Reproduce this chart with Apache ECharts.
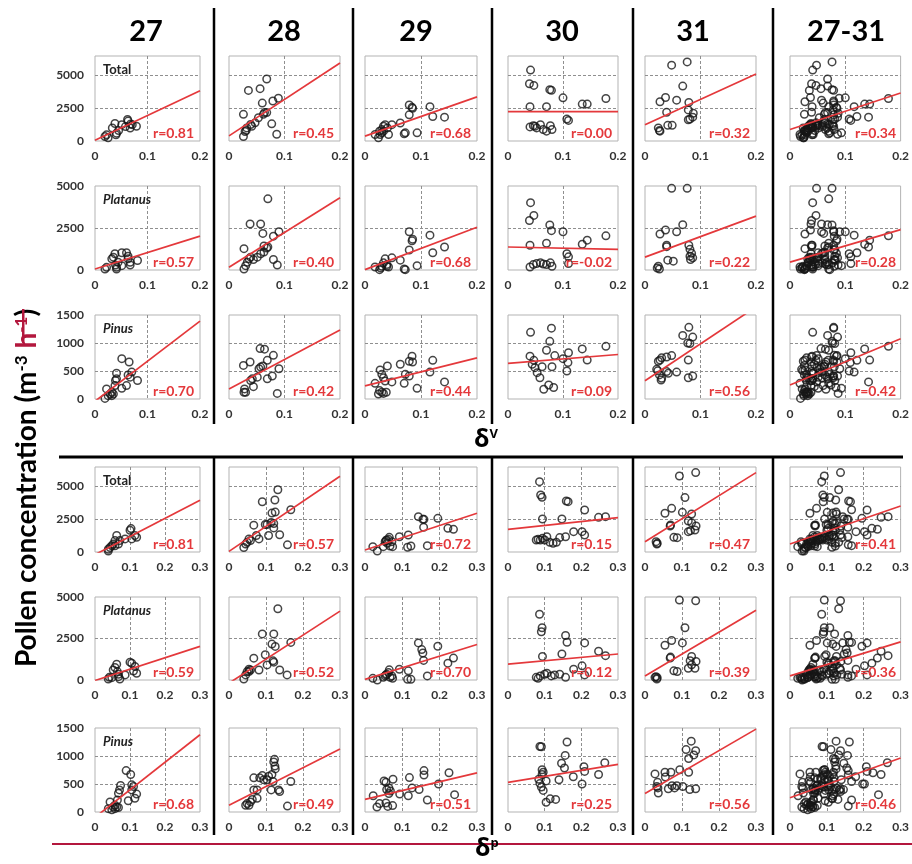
<!DOCTYPE html>
<html>
<head>
<meta charset="utf-8">
<script src="https://cdn.jsdelivr.net/npm/echarts@6/dist/echarts.min.js"></script>
<style>
html,body{margin:0;padding:0;background:#fff}
#chart{width:912px;height:864px}
</style>
</head>
<body>
<div id="chart"></div>
<script>
// ---- Column headings (sampling days) ----
const dayLabels = ['27', '28', '29', '30', '31', '27-31'];

// ---- Pollen concentration vs delta-V, per day: [deltaV, concentration] ----
const totalV27 = [[0.019,340],[0.022,470],[0.025,250],[0.033,995],[0.038,1335],[0.041,600],[0.040,470],[0.045,800],[0.051,1250],[0.058,1100],[0.062,1650],[0.063,1520],[0.067,995],[0.068,1300],[0.071,1250],[0.079,1125]];
const totalV28 = [[0.026,340],[0.029,730],[0.026,2040],[0.035,3870],[0.056,4000],[0.068,4740],[0.060,2900],[0.079,3060],[0.089,3270],[0.064,2170],[0.068,2170],[0.053,1780],[0.047,1390],[0.041,1130],[0.032,1000],[0.077,1310],[0.086,520],[0.062,2040],[0.039,1260],[0.031,810]];
const totalV29 = [[0.018,500],[0.024,250],[0.026,750],[0.030,875],[0.033,1125],[0.036,1250],[0.033,750],[0.040,1000],[0.042,500],[0.048,1250],[0.063,1375],[0.070,550],[0.072,625],[0.079,2000],[0.079,2750],[0.085,2500],[0.084,2575],[0.093,625],[0.116,2625],[0.121,1875],[0.142,1825],[0.030,625],[0.027,500]];
const totalV30 = [[0.041,5425],[0.039,4375],[0.047,4250],[0.076,3925],[0.079,3875],[0.100,3300],[0.040,2625],[0.070,2625],[0.135,2825],[0.144,2825],[0.178,3250],[0.107,1675],[0.110,1575],[0.040,1075],[0.046,1175],[0.052,1000],[0.059,1250],[0.064,875],[0.070,750],[0.077,1175],[0.080,875],[0.049,1125]];
const totalV31 = [[0.048,5800],[0.076,6050],[0.068,4200],[0.027,3000],[0.037,3325],[0.057,3125],[0.079,2950],[0.039,2200],[0.078,2375],[0.087,2125],[0.081,1675],[0.086,1825],[0.078,1625],[0.041,1200],[0.049,1200],[0.024,1000],[0.026,800],[0.027,750]];

const platV27 = [[0.019,60],[0.022,160],[0.032,665],[0.035,765],[0.038,970],[0.041,160],[0.039,300],[0.044,460],[0.051,260],[0.051,1030],[0.060,1030],[0.063,825],[0.067,460],[0.063,665],[0.081,565],[0.067,300],[0.041,60]];
const platV28 = [[0.027,60],[0.030,260],[0.033,460],[0.036,665],[0.039,765],[0.027,1270],[0.038,2740],[0.057,2740],[0.061,2180],[0.070,4235],[0.063,1430],[0.068,1310],[0.070,1370],[0.057,970],[0.051,765],[0.044,625],[0.080,2015],[0.090,2280],[0.080,625],[0.087,300],[0.063,1070]];
const platV29 = [[0.018,180],[0.026,20],[0.030,220],[0.033,425],[0.036,665],[0.039,220],[0.042,180],[0.048,725],[0.063,585],[0.070,60],[0.072,20],[0.079,2280],[0.085,1835],[0.084,1735],[0.079,1190],[0.093,260],[0.116,2075],[0.121,1030],[0.142,1370],[0.028,120],[0.039,320]];
const platV30 = [[0.041,4010],[0.039,2945],[0.047,3250],[0.076,2680],[0.079,2340],[0.100,2280],[0.040,1470],[0.070,1590],[0.135,1530],[0.144,1775],[0.178,2035],[0.107,970],[0.110,785],[0.040,180],[0.046,320],[0.052,380],[0.059,425],[0.064,360],[0.070,320],[0.077,425],[0.080,220],[0.110,380]];
const platV31 = [[0.048,4860],[0.076,4860],[0.068,2700],[0.027,2140],[0.037,2380],[0.057,2280],[0.039,1470],[0.039,1390],[0.079,1470],[0.081,1230],[0.084,990],[0.081,825],[0.086,725],[0.082,625],[0.041,585],[0.051,525],[0.024,220],[0.026,60],[0.022,120]];

const pinV27 = [[0.019,10],[0.022,180],[0.025,60],[0.029,90],[0.032,60],[0.035,90],[0.038,240],[0.039,330],[0.041,360],[0.041,460],[0.051,720],[0.051,190],[0.060,240],[0.065,660],[0.063,430],[0.070,480],[0.067,390],[0.081,330],[0.032,120]];
const pinV28 = [[0.027,120],[0.028,180],[0.030,120],[0.026,600],[0.038,660],[0.042,360],[0.039,330],[0.044,220],[0.051,390],[0.054,540],[0.057,570],[0.061,590],[0.056,900],[0.064,890],[0.069,690],[0.069,360],[0.078,410],[0.080,780],[0.090,540],[0.087,100]];
const pinV29 = [[0.018,280],[0.024,90],[0.026,150],[0.030,120],[0.033,100],[0.027,520],[0.030,440],[0.033,380],[0.036,320],[0.040,590],[0.048,305],[0.063,620],[0.070,280],[0.072,440],[0.079,675],[0.084,765],[0.085,660],[0.079,410],[0.093,190],[0.116,480],[0.121,690],[0.142,305],[0.038,120]];
const pinV30 = [[0.041,1190],[0.079,1265],[0.076,1030],[0.070,870],[0.040,765],[0.047,690],[0.044,620],[0.049,560],[0.053,470],[0.058,380],[0.062,575],[0.080,575],[0.085,775],[0.100,720],[0.110,825],[0.109,650],[0.107,500],[0.135,895],[0.144,695],[0.178,940],[0.065,175],[0.074,250],[0.083,205]];
const pinV31 = [[0.079,1280],[0.068,1135],[0.086,1105],[0.077,1000],[0.081,990],[0.078,695],[0.027,695],[0.024,675],[0.030,735],[0.039,750],[0.048,775],[0.023,505],[0.026,430],[0.030,370],[0.039,490],[0.042,460],[0.057,480],[0.029,340],[0.078,380],[0.086,410],[0.021,530]];

// ---- Pollen concentration vs delta-P, per day: [deltaP, concentration] ----
const totalP27 = [[0.038,210],[0.043,340],[0.048,475],[0.057,870],[0.062,1260],[0.052,605],[0.067,605],[0.071,870],[0.057,475],[0.086,1000],[0.100,1660],[0.103,1790],[0.105,1000],[0.114,1260],[0.119,1130],[0.038,80]];
const totalP28 = [[0.040,340],[0.045,605],[0.049,740],[0.058,870],[0.067,2050],[0.074,1260],[0.081,1000],[0.090,3840],[0.098,2100],[0.103,2100],[0.107,1260],[0.114,2260],[0.116,2975],[0.121,2180],[0.121,1840],[0.124,3975],[0.125,3050],[0.132,4760],[0.137,1315],[0.158,550],[0.167,3235],[0.054,1000]];
const totalP29 = [[0.021,410],[0.033,75],[0.049,410],[0.054,790],[0.056,870],[0.060,665],[0.063,970],[0.065,1120],[0.067,460],[0.072,790],[0.074,410],[0.092,1170],[0.116,1300],[0.114,360],[0.123,460],[0.143,2700],[0.155,2500],[0.158,2500],[0.157,1890],[0.167,485],[0.195,2575],[0.222,1810],[0.237,1735],[0.058,920]];
const totalP30 = [[0.086,5380],[0.089,4360],[0.093,4180],[0.094,2525],[0.159,3900],[0.164,3850],[0.147,2525],[0.209,3210],[0.247,2650],[0.266,2700],[0.082,970],[0.088,920],[0.094,1045],[0.100,920],[0.106,1175],[0.114,740],[0.123,665],[0.132,740],[0.141,1100],[0.157,1170],[0.179,1555],[0.202,1555],[0.209,1300],[0.077,920]];
const totalP31 = [[0.093,5815],[0.137,6070],[0.108,4160],[0.054,2960],[0.072,3340],[0.101,3035],[0.126,2910],[0.117,2370],[0.126,2245],[0.138,1990],[0.135,1680],[0.123,1630],[0.117,1555],[0.069,2065],[0.068,1990],[0.078,1120],[0.087,1095],[0.030,790],[0.032,610],[0.033,665]];

const platP27 = [[0.038,60],[0.041,160],[0.057,750],[0.062,950],[0.064,505],[0.067,200],[0.071,60],[0.067,345],[0.052,605],[0.100,1075],[0.105,1010],[0.114,810],[0.110,545],[0.119,405],[0.086,305],[0.048,140]];
const platP28 = [[0.040,60],[0.045,305],[0.049,505],[0.054,650],[0.067,1315],[0.081,605],[0.090,2775],[0.098,1520],[0.103,910],[0.116,2165],[0.121,2775],[0.125,2025],[0.119,1155],[0.121,1075],[0.132,4290],[0.137,605],[0.157,305],[0.167,2265],[0.054,505],[0.058,605]];
const platP29 = [[0.021,100],[0.033,0],[0.049,160],[0.054,245],[0.058,345],[0.063,445],[0.065,610],[0.067,160],[0.072,245],[0.074,100],[0.092,650],[0.116,550],[0.114,40],[0.123,40],[0.143,2235],[0.152,1830],[0.155,1625],[0.157,1180],[0.167,245],[0.195,2030],[0.222,1015],[0.237,1320],[0.056,305]];
const platP30 = [[0.086,3960],[0.093,3150],[0.091,2910],[0.094,1420],[0.157,2680],[0.161,2275],[0.147,1565],[0.209,2235],[0.247,1730],[0.266,1465],[0.082,100],[0.088,245],[0.100,345],[0.106,405],[0.118,245],[0.127,305],[0.141,345],[0.157,160],[0.179,650],[0.202,855],[0.209,305],[0.077,160]];
const platP31 = [[0.093,4815],[0.137,4775],[0.108,3150],[0.054,2095],[0.072,2380],[0.101,2235],[0.069,1380],[0.068,1320],[0.126,1420],[0.122,1160],[0.138,1120],[0.126,915],[0.135,710],[0.117,710],[0.078,550],[0.087,510],[0.030,200],[0.032,60],[0.033,140],[0.027,160]];

const pinP27 = [[0.038,60],[0.043,180],[0.048,40],[0.052,90],[0.057,120],[0.062,90],[0.064,215],[0.067,335],[0.070,395],[0.073,475],[0.057,60],[0.067,80],[0.089,740],[0.102,670],[0.105,485],[0.105,395],[0.110,455],[0.114,245],[0.119,320],[0.095,200]];
const pinP28 = [[0.045,120],[0.049,150],[0.054,120],[0.058,180],[0.063,225],[0.067,395],[0.076,245],[0.076,395],[0.067,610],[0.090,650],[0.094,575],[0.103,575],[0.107,640],[0.116,670],[0.114,395],[0.121,895],[0.124,820],[0.123,940],[0.125,770],[0.119,545],[0.134,395],[0.137,365],[0.158,105],[0.167,545],[0.083,610]];
const pinP29 = [[0.022,290],[0.032,90],[0.039,150],[0.056,160],[0.061,100],[0.056,530],[0.058,400],[0.064,430],[0.064,330],[0.068,375],[0.074,115],[0.075,585],[0.093,320],[0.116,290],[0.119,615],[0.126,430],[0.145,400],[0.158,660],[0.158,740],[0.167,215],[0.197,500],[0.225,700],[0.240,310],[0.051,555]];
const pinP30 = [[0.087,1170],[0.091,1165],[0.161,1250],[0.156,1010],[0.146,870],[0.154,785],[0.207,810],[0.209,725],[0.264,880],[0.247,670],[0.178,630],[0.139,575],[0.104,555],[0.093,755],[0.093,670],[0.084,585],[0.087,510],[0.091,445],[0.096,385],[0.104,175],[0.115,235],[0.130,225],[0.202,500],[0.096,710]];
const pinP31 = [[0.027,680],[0.034,530],[0.032,455],[0.036,340],[0.035,430],[0.054,710],[0.055,625],[0.070,710],[0.094,755],[0.111,1115],[0.125,1265],[0.137,1095],[0.132,1020],[0.118,955],[0.118,710],[0.073,470],[0.080,430],[0.086,470],[0.102,455],[0.121,400],[0.137,415],[0.063,415]];

// ---- Regression lines: [value at x = 0, value at x = axis max], one per day column ----
const fitTotalV = [[50,3850],[390,5970],[375,3375],[2250,2250],[1250,5125],[875,3675]];
const fitPlatV  = [[60,2015],[160,4295],[20,2540],[1370,1230],[765,3205],[465,2400]];
const fitPinV   = [[-40,1390],[180,1230],[235,735],[635,795],[325,1645],[250,1075]];
const fitTotalP = [[-200,3950],[50,5790],[150,2960],[1735,2630],[790,6070],[610,3520]];
const fitPlatP  = [[-30,2025],[-190,4150],[40,2135],[955,1565],[245,4205],[245,2295]];
const fitPinP   = [[-95,1380],[120,1125],[225,700],[530,850],[330,1480],[255,965]];

// ---- Correlation coefficients printed in each panel ----
const rTotalV = ['0.81','0.45','0.68','0.00','0.32','0.34'];
const rPlatV  = ['0.57','0.40','0.68','-0.02','0.22','0.28'];
const rPinV   = ['0.70','0.42','0.44','0.09','0.56','0.42'];
const rTotalP = ['0.81','0.57','0.72','0.15','0.47','0.41'];
const rPlatP  = ['0.59','0.52','0.70','0.12','0.39','0.36'];
const rPinP   = ['0.68','0.49','0.51','0.25','0.56','0.46'];

// the pooled column holds every sample of the five days
const pooled = (arrs) => [].concat(...arrs);

const panelRows = [
  { name: 'Total',    italic: false, yMax: 6500, yStep: 2500, xMax: 0.2, fits: fitTotalV, r: rTotalV,
    pts: [totalV27, totalV28, totalV29, totalV30, totalV31] },
  { name: 'Platanus', italic: true,  yMax: 5000, yStep: 2500, xMax: 0.2, fits: fitPlatV, r: rPlatV,
    pts: [platV27, platV28, platV29, platV30, platV31] },
  { name: 'Pinus',    italic: true,  yMax: 1500, yStep: 500,  xMax: 0.2, fits: fitPinV, r: rPinV,
    pts: [pinV27, pinV28, pinV29, pinV30, pinV31] },
  { name: 'Total',    italic: false, yMax: 6500, yStep: 2500, xMax: 0.3, fits: fitTotalP, r: rTotalP,
    pts: [totalP27, totalP28, totalP29, totalP30, totalP31] },
  { name: 'Platanus', italic: true,  yMax: 5000, yStep: 2500, xMax: 0.3, fits: fitPlatP, r: rPlatP,
    pts: [platP27, platP28, platP29, platP30, platP31] },
  { name: 'Pinus',    italic: true,  yMax: 1500, yStep: 500,  xMax: 0.3, fits: fitPinP, r: rPinP,
    pts: [pinP27, pinP28, pinP29, pinP30, pinP31] }
];
panelRows.forEach(row => row.pts.push(pooled(row.pts)));

// ---- Layout (pixels) ----
const colBox = [[95,200],[229,340],[365,477],[508,618],[645,756],[790,902]];
const rowBox = [[56,141],[186,270],[315,399],[467,552],[597,680],[728,812]];
const titleX = [146, 284, 416, 562, 693, 846];
const dividerX = [214, 353, 492, 633, 773];

const FONT = 'Lato, "Open Sans", "Liberation Sans", sans-serif';
const RED = '#e4383b';
const CRIMSON = '#b3173d';

const grid = [], xAxis = [], yAxis = [], series = [], graphic = [];

panelRows.forEach((row, ri) => {
  const [top, bottom] = rowBox[ri];
  for (let ci = 0; ci < 6; ci++) {
    const [left, right] = colBox[ci];
    const idx = ri * 6 + ci;
    grid.push({ left, top, width: right - left, height: bottom - top,
      show: true, borderColor: '#b3b3b3', borderWidth: 1, backgroundColor: 'transparent' });
    xAxis.push({
      gridIndex: idx, type: 'value', min: 0, max: row.xMax, interval: 0.1,
      axisLine: { show: false }, axisTick: { show: false },
      axisLabel: { color: '#333', fontFamily: FONT, fontWeight: 'bold', fontSize: 12, margin: 9,
        formatter: v => (v === 0 ? '0' : v.toFixed(1)) },
      splitLine: { show: true, showMinLine: false, showMaxLine: false,
        lineStyle: { color: '#8f8f8f', width: 1, type: [3, 2] } }
    });
    yAxis.push({
      gridIndex: idx, type: 'value', min: 0, max: row.yMax, interval: row.yStep,
      axisLine: { show: false }, axisTick: { show: false },
      axisLabel: { show: ci === 0, color: '#333', fontFamily: FONT, fontWeight: 'bold', fontSize: 12, margin: 11,
        formatter: v => (v % row.yStep === 0 ? String(v) : '') },
      splitLine: { show: true, showMinLine: false, showMaxLine: false,
        lineStyle: { color: '#8f8f8f', width: 1, type: [3, 2] } }
    });
    series.push({
      type: 'scatter', xAxisIndex: idx, yAxisIndex: idx, data: row.pts[ci],
      symbol: 'circle', symbolSize: 7.5, silent: true,
      itemStyle: { color: 'rgba(255,255,255,0)', borderColor: '#161616', borderWidth: 1.5 }
    });
    const f = row.fits[ci];
    series.push({
      type: 'line', xAxisIndex: idx, yAxisIndex: idx, data: [[0, f[0]], [row.xMax, f[1]]],
      showSymbol: false, silent: true, clip: true, z: 3,
      lineStyle: { color: RED, width: 1.7 }
    });
    graphic.push({
      type: 'text', x: right - 6, y: bottom - 8, z: 10,
      style: { text: 'r=' + row.r[ci], font: 'bold 14px ' + FONT, fill: RED,
        textAlign: 'right', align: 'right', textVerticalAlign: 'middle', verticalAlign: 'middle' }
    });
  }
  graphic.push({
    type: 'text', x: colBox[0][0] + 8, y: top + 14, z: 10,
    style: { text: row.name, font: (row.italic ? 'italic ' : '') + 'bold 13px ' + FONT, fill: '#222',
      textAlign: 'left', align: 'left', textVerticalAlign: 'middle', verticalAlign: 'middle' }
  });
});

// column headings
dayLabels.forEach((d, i) => graphic.push({
  type: 'text', x: titleX[i], y: 32,
  style: { text: d, font: 'bold 29px ' + FONT, fill: '#000',
    textAlign: 'center', align: 'center', textVerticalAlign: 'middle', verticalAlign: 'middle' }
}));

// black frame lines between days and between the two halves
dividerX.forEach(x => {
  graphic.push({ type: 'line', shape: { x1: x, y1: 8, x2: x, y2: 424 }, style: { stroke: '#000', lineWidth: 2.5 } });
  graphic.push({ type: 'line', shape: { x1: x, y1: 457, x2: x, y2: 835 }, style: { stroke: '#000', lineWidth: 2.5 } });
});
graphic.push({ type: 'line', shape: { x1: 59, y1: 457, x2: 903, y2: 457 }, style: { stroke: '#000', lineWidth: 3 } });
graphic.push({ type: 'line', shape: { x1: 52, y1: 844, x2: 912, y2: 844 }, style: { stroke: CRIMSON, lineWidth: 2 } });

// axis names
const GREEK = '"Noto Sans", "DejaVu Sans", sans-serif';
graphic.push({
  type: 'text', x: 486, y: 440, z: 20,
  style: { text: '{d|δ}{s|V}', align: 'center', textAlign: 'center', verticalAlign: 'middle', textVerticalAlign: 'middle',
    rich: { d: { font: 'bold 25px ' + GREEK, fill: '#000' },
            s: { font: 'bold 13px ' + GREEK, fill: '#000', verticalAlign: 'top' } } }
});
graphic.push({
  type: 'text', x: 487, y: 849, z: 20,
  style: { text: '{d|δ}{s|p}', align: 'center', textAlign: 'center', verticalAlign: 'middle', textVerticalAlign: 'middle',
    rich: { d: { font: 'bold 25px ' + GREEK, fill: '#000' },
            s: { font: 'bold 13px ' + GREEK, fill: '#000', verticalAlign: 'top' } } }
});
graphic.push({
  type: 'text', x: 27, y: 488, rotation: Math.PI / 2, z: 20,
  style: { text: '{m|Pollen concentration (m}{s|-3}{m| }{h|h}{hs|-1}{m|)}',
    align: 'center', textAlign: 'center', verticalAlign: 'middle', textVerticalAlign: 'middle',
    rich: {
      m: { font: 'bold 28px ' + FONT, fill: '#000' },
      s: { font: 'bold 17px ' + FONT, fill: '#000', verticalAlign: 'top' },
      h: { font: 'bold 28px ' + FONT, fill: CRIMSON },
      hs: { font: 'bold 17px ' + FONT, fill: CRIMSON, verticalAlign: 'top' }
    } }
});
// strike mark across the red unit
graphic.push({ type: 'rect', shape: { x: 22, y: 309, width: 2.5, height: 34 }, style: { fill: CRIMSON }, z: 21 });

const chart = echarts.init(document.getElementById('chart'), null, { renderer: 'canvas' });
chart.setOption({
  animation: false,
  backgroundColor: '#fff',
  grid, xAxis, yAxis, series, graphic
});
</script>
</body>
</html>
